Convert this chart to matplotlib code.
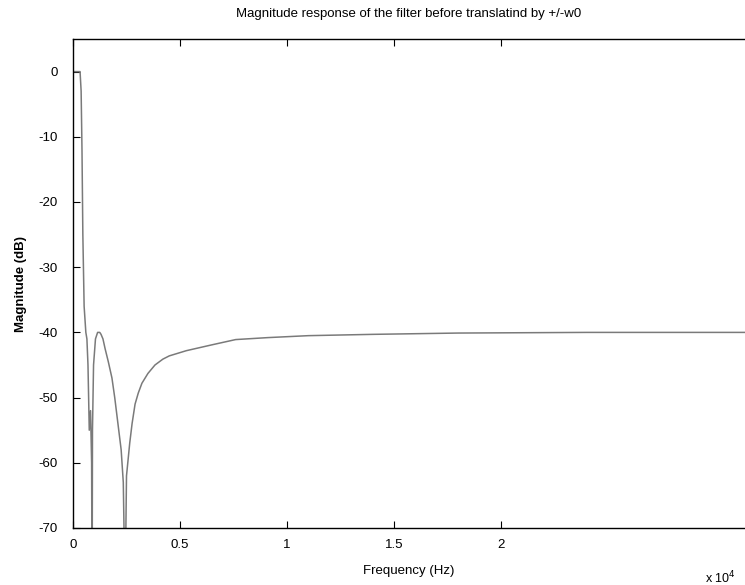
import numpy as np
import matplotlib
matplotlib.use("Agg")
import matplotlib.pyplot as plt

# Frequency (Hz) and magnitude (dB)
freq = [0, 200, 330, 380, 420, 460, 520, 600, 650, 700, 760, 820, 870, 890, 895,
        910, 960, 1050, 1150, 1250, 1310, 1400, 1500, 1650, 1820, 1950, 2100,
        2250, 2350, 2430, 2435, 2500, 2650, 2760, 2900, 3050, 3220, 3500, 3830,
        4200, 4500, 5300, 6500, 7600, 9100, 11000, 14000, 18000, 24000, 31400]
mag_db = [0, 0, 0, -3, -12, -25, -36, -40, -41, -45, -55, -52, -60, -80, -80,
          -55, -45, -41, -40, -40, -40.3, -41, -42.5, -44.5, -47, -50, -54,
          -58, -63, -80, -80, -62, -57, -54, -51, -49.3, -47.8, -46.3, -45,
          -44.1, -43.6, -42.8, -41.9, -41.1, -40.8, -40.5, -40.3, -40.1, -40.0, -40.0]

xtick_vals = [0, 5000, 10000, 15000, 20000]
xtick_labels = ["0", "0.5", "1", "1.5", "2"]
ytick_vals = [0, -10, -20, -30, -40, -50, -60, -70]

plt.rcParams['font.family'] = ['Liberation Sans', 'DejaVu Sans']

fig = plt.figure(figsize=(7.45, 5.85), dpi=100)
ax = fig.add_axes([73/745, 1-528/585, 672/745, (528-39)/585])

ax.plot(freq, mag_db, color='#7a7a7a', lw=1.1)

ax.set_xlim(0, 31400)
ax.set_ylim(-70, 5)
ax.set_xticks(xtick_vals)
ax.set_xticklabels(xtick_labels)
ax.set_yticks(ytick_vals)
ax.set_yticklabels([str(v) for v in ytick_vals])
ax.tick_params(direction='in', top=True, right=False, labelsize=9.5, length=5)
ax.tick_params(axis='y', pad=11)
ax.tick_params(axis='x', pad=8)
for s in ['left', 'bottom', 'top']:
    ax.spines[s].set_linewidth(1.0)
    ax.spines[s].set_color('black')
ax.spines['right'].set_visible(False)

ax.set_xlabel('Frequency (Hz)', fontsize=9.5, labelpad=10)
ax.set_ylabel('Magnitude (dB)', fontsize=9.5, fontweight='bold', labelpad=8)
ax.set_title('Magnitude response of the filter before translatind by +/-w0',
             fontsize=9.5, pad=16)

fig.text(720/745, 1-578/585, r'x 10$^4$', fontsize=9, ha='center', va='center')

fig.savefig('out.png', dpi=100)
